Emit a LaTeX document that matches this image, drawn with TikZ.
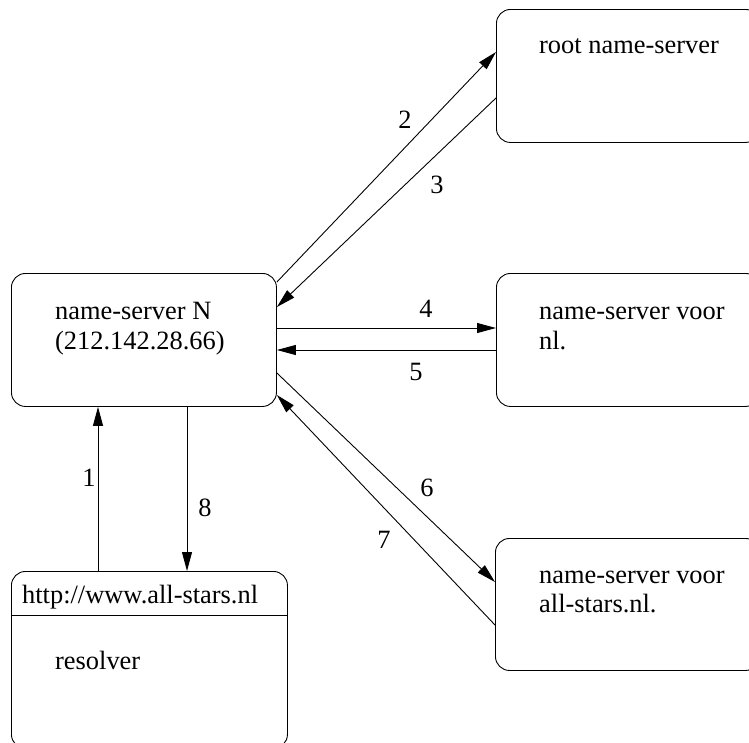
\documentclass[tikz,border=0pt]{standalone}
\usepackage{fontspec}
\setmainfont{Liberation Serif}
\usetikzlibrary{arrows.meta,positioning}
\tikzset{
  box/.style={draw, line width=0.9pt, rounded corners=14pt, inner sep=0pt, anchor=north west},
  txt/.style={anchor=base west, inner sep=0pt, font=\fontsize{26.4}{30}\selectfont},
  lbl/.style={anchor=center, inner sep=0pt, font=\fontsize{26.4}{30}\selectfont},
  arr/.style={line width=0.9pt, -{Triangle[length=19pt,width=10pt]}}
}
\begin{document}
\begin{tikzpicture}[x=1pt,y=-1pt]
\useasboundingbox (0,0) rectangle (749,742);
\clip (0,0) rectangle (749,742);
% boxes
\node[box, minimum width=265pt, minimum height=133pt] (N) at (11,273) {};
\node[box, minimum width=263pt, minimum height=133pt] (root) at (496,9) {};
\node[box, minimum width=263pt, minimum height=133pt] (nl) at (496,273) {};
\node[box, minimum width=264pt, minimum height=132pt] (all) at (495,538) {};
\node[box, minimum width=276pt, minimum height=177pt] (res) at (11,571) {};
\draw[line width=0.9pt] ([yshift=-44pt]res.north west) coordinate (sepL) -- ([yshift=-44pt]res.north east) coordinate (sepR);
% texts
\node[txt] (tN1) at (55,319) {name-server N};
\node[txt] (tN2) at (55,349) {(212.142.28.66)};
\node[txt] (tR) at (539,53) {root name-server};
\node[txt] (tL1) at (539,319) {name-server voor};
\node[txt] (tL2) at (539,349) {nl.};
\node[txt] (tA1) at (539,583) {name-server voor};
\node[txt] (tA2) at (539,612) {all-stars.nl.};
\node[txt] (tH) at (22,603) {http://www.all-stars.nl};
\node[txt] (tRes) at (55,669) {resolver};
% arrows
\draw[arr] ([yshift=-9pt]N.north east) -- ([yshift=-43pt]root.north west);
\draw[arr] ([yshift=-89pt]root.north west) -- ([yshift=-34pt]N.north east);
\draw[arr] ([yshift=-55pt]N.north east) -- ([yshift=-55pt]nl.north west);
\draw[arr] ([yshift=-77pt]nl.north west) -- ([yshift=-77pt]N.north east);
\draw[arr] ([yshift=-100pt]N.north east) -- ([yshift=-44pt]all.north west);
\draw[arr] ([yshift=-87pt]all.north west) -- ([yshift=-122pt]N.north east);
\draw[arr] ([xshift=87pt]res.north west) -- ([xshift=87pt]N.south west);
\draw[arr] ([xshift=176pt]N.south west) -- ([xshift=176pt]res.north west);
% labels
\node[lbl] (l2) at (405,120) {2};
\node[lbl] (l3) at (437,185) {3};
\node[lbl] (l4) at (426,309) {4};
\node[lbl] (l5) at (416,372) {5};
\node[lbl] (l6) at (427,488) {6};
\node[lbl] (l7) at (384,540) {7};
\node[lbl] (l1) at (89,478) {1};
\node[lbl] (l8) at (205,508) {8};
\end{tikzpicture}
\end{document}
